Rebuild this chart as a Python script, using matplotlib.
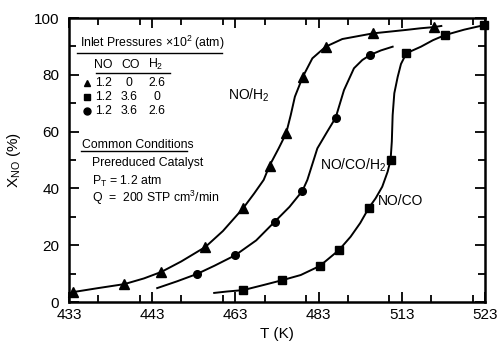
import matplotlib
matplotlib.use("Agg")
from matplotlib import pyplot as plt
from matplotlib.ticker import FixedLocator, MultipleLocator

plt.rcParams['font.family'] = ['Liberation Sans', 'DejaVu Sans']
plt.rcParams['mathtext.fontset'] = 'custom'
plt.rcParams['mathtext.rm'] = 'Liberation Sans'

# tick values as spaced on the axis, labels as printed on the original figure
x_ticks = [433, 453, 473, 493, 513, 533]
x_labels = ['433', '443', '463', '483', '513', '523']

# NO/H2  (triangles)
h2_T = [434.0, 446.3, 455.2, 465.8, 474.9, 481.2, 485.2, 489.2, 494.7, 506.1, 520.7]
h2_X = [3.5, 6.3, 10.6, 19.4, 33.1, 48.0, 59.4, 79.3, 89.9, 94.6, 96.8]
h2_line_T = [433.0, 434.0, 440.0, 446.3, 451.0, 455.2, 460.0, 465.8, 470.0, 474.9, 477.5,
             479.8, 481.2, 483.4, 485.2, 486.3, 487.3, 489.2, 491.5, 494.7, 498.7,
             506.1, 514.0, 517.6, 520.7, 522.5]
h2_line_X = [3.0, 3.5, 4.9, 6.3, 8.3, 10.6, 14.3, 19.4, 25.0, 33.1, 38.2,
             43.0, 48.0, 54.1, 59.4, 65.8, 72.3, 79.3, 85.8, 89.9, 92.6,
             94.6, 95.8, 96.4, 96.8, 97.2]

# NO/CO  (squares)
co_T = [474.9, 484.3, 493.3, 497.9, 505.1, 510.3, 514.1, 523.4, 532.8]
co_X = [4.2, 7.7, 12.7, 18.3, 33.2, 50.0, 87.6, 94.0, 97.5]
co_line_T = [467.9, 471.0, 474.9, 479.8, 484.3, 488.7, 493.3, 497.9, 500.7, 503.0, 505.1,
             506.7, 508.3, 509.6, 510.3, 510.6, 510.8, 511.2, 512.0, 512.8, 514.1,
             517.6, 520.5, 523.4, 528.0, 532.8]
co_line_X = [3.2, 3.7, 4.2, 6.0, 7.7, 9.5, 12.7, 18.3, 23.0, 27.8, 33.2,
             36.5, 40.6, 45.9, 50.0, 56.5, 65.8, 73.5, 79.2, 83.8, 87.6,
             89.9, 92.2, 94.0, 95.9, 97.5]

# NO/CO/H2  (circles)
coh2_T = [463.8, 473.0, 482.4, 489.1, 497.1, 505.4]
coh2_X = [9.9, 16.5, 28.2, 39.1, 64.9, 87.0]
coh2_line_T = [454.2, 459.0, 463.8, 468.0, 473.0, 478.0, 482.4, 486.0, 489.1, 490.3, 492.7,
               495.0, 497.1, 499.1, 501.5, 503.5, 505.4, 508.0, 510.8]
coh2_line_X = [4.9, 7.3, 9.9, 12.8, 16.5, 21.7, 28.2, 33.5, 39.1, 43.0, 54.1,
               59.8, 64.9, 74.6, 82.3, 85.2, 87.0, 88.6, 89.9]

fig = plt.figure(figsize=(5.0, 3.45), dpi=100)
ax = fig.add_axes([0.138, 0.1246, 0.832, 0.8232])

lw = 1.4
ax.plot(h2_line_T, h2_line_X, color='black', lw=lw)
ax.plot(co_line_T, co_line_X, color='black', lw=lw)
ax.plot(coh2_line_T, coh2_line_X, color='black', lw=lw)
ax.plot(h2_T, h2_X, '^', color='black', ms=6.5, clip_on=False)
ax.plot(co_T, co_X, 's', color='black', ms=6, clip_on=False)
ax.plot(coh2_T, coh2_X, 'o', color='black', ms=5.5, clip_on=False)

ax.set_xlim(433, 533)
ax.set_ylim(0, 100)
ax.xaxis.set_major_locator(FixedLocator(x_ticks))
ax.set_xticklabels(x_labels)
ax.xaxis.set_minor_locator(MultipleLocator(10))
ax.yaxis.set_major_locator(MultipleLocator(20))
ax.yaxis.set_minor_locator(MultipleLocator(10))
ax.tick_params(which='both', direction='in', top=True, right=True, width=1.3, labelsize=11)
ax.tick_params(which='major', length=7)
ax.tick_params(which='minor', length=5)
ax.tick_params(axis='x', pad=4)
ax.tick_params(axis='y', pad=7)
for s in ax.spines.values():
    s.set_linewidth(1.8)

ax.set_xlabel('T (K)', fontsize=11, labelpad=4)
ax.set_ylabel('X$_{\\mathrm{NO}}$ (%)', fontsize=11, labelpad=8)

# curve labels
ax.annotate('NO/H$_2$', xy=(0.432, 0.728), xycoords='axes fraction', fontsize=10, ha='center', va='center')
ax.annotate('NO/CO/H$_2$', xy=(0.682, 0.482), xycoords='axes fraction', fontsize=10, ha='center', va='center')
ax.annotate('NO/CO', xy=(0.798, 0.356), xycoords='axes fraction', fontsize=10, ha='center', va='center')

# inset table
tr = ax.transAxes
fs = 8.8
ax.text(0.026, 0.912, 'Inlet Pressures $\\times$10$^2$ (atm)', transform=tr, fontsize=fs, va='center')
ax.plot([0.019, 0.368], [0.877, 0.877], transform=tr, color='black', lw=1)
for xc, s in zip([0.082, 0.149, 0.209], ['NO', 'CO', 'H$_2$']):
    ax.text(xc, 0.835, s, transform=tr, fontsize=fs, ha='center', va='center')
ax.plot([0.064, 0.243], [0.806, 0.806], transform=tr, color='black', lw=1)
rows = [('^', '1.2', '0', '2.6'), ('s', '1.2', '3.6', '0'), ('o', '1.2', '3.6', '2.6')]
for yy, (m, a, b, c) in zip([0.772, 0.721, 0.674], rows):
    ax.plot([0.043], [yy], m, color='black', ms=5, transform=tr)
    ax.text(0.082, yy, a, transform=tr, fontsize=fs, ha='center', va='center')
    ax.text(0.145, yy, b, transform=tr, fontsize=fs, ha='center', va='center')
    ax.text(0.211, yy, c, transform=tr, fontsize=fs, ha='center', va='center')

ax.text(0.031, 0.553, 'Common Conditions', transform=tr, fontsize=fs, va='center')
ax.plot([0.03, 0.284], [0.532, 0.532], transform=tr, color='black', lw=1)
ax.text(0.055, 0.489, 'Prereduced Catalyst', transform=tr, fontsize=fs, va='center')
ax.text(0.055, 0.425, 'P$_\\mathrm{T}$ = 1.2 atm', transform=tr, fontsize=fs, va='center')
ax.text(0.055, 0.366, 'Q  =  200 STP cm$^3$/min', transform=tr, fontsize=fs, va='center')

fig.savefig('out.png', dpi=100)
